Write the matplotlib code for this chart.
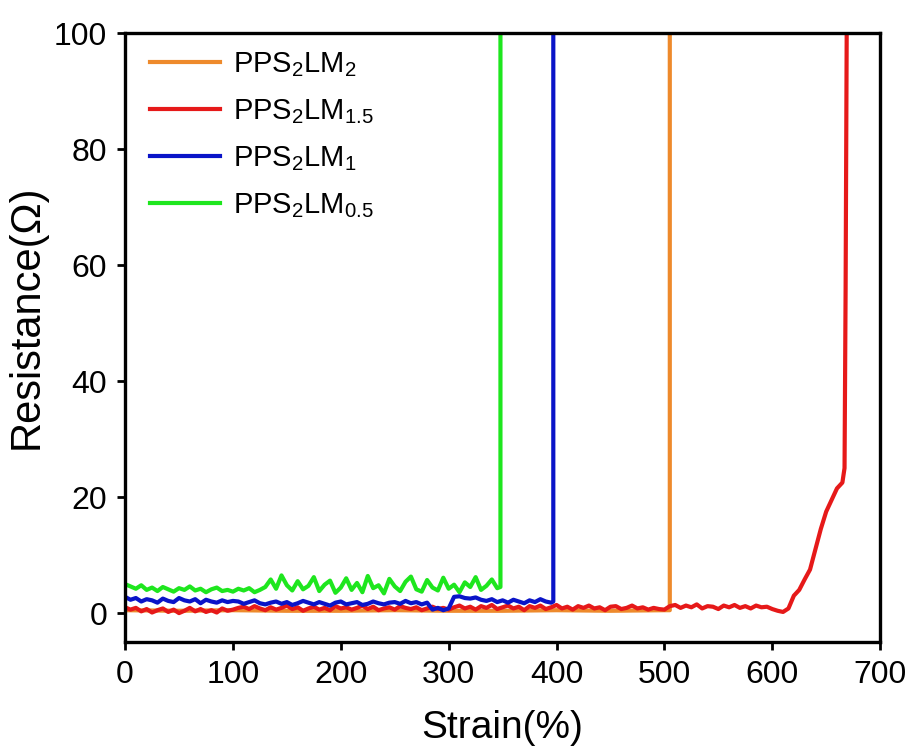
import numpy as np
import matplotlib
matplotlib.use('Agg')
import matplotlib.pyplot as plt

plt.rcParams['font.family'] = ['Liberation Sans', 'DejaVu Sans']
plt.rcParams['mathtext.default'] = 'regular'

# green: PPS2LM0.5, sampled every 5 % strain up to 345 %, breaks at ~348 %
green_strain = list(np.arange(0, 350, 5)) + [348, 348]
green_res = [5.0, 4.6, 4.2, 4.8, 4.0, 4.4, 3.8, 4.5, 4.1, 3.7, 4.3, 4.0, 4.6, 3.9, 4.2, 3.6,
             4.1, 4.4, 3.8, 4.0, 3.7, 4.2, 3.9, 4.3, 3.6, 4.0,
             4.5, 5.8, 4.2, 6.5, 4.8, 3.9, 5.5, 4.1, 4.7, 6.2, 3.8, 4.9, 5.6, 3.5, 4.4, 6.0,
             4.0, 5.2, 3.6, 6.4, 4.3, 4.8, 3.4, 5.9, 4.6, 3.8, 5.4, 6.3, 4.1, 3.7, 5.7, 4.4,
             3.9, 6.1, 4.2, 4.9, 3.6, 5.3, 4.5, 6.2, 4.0, 4.7, 5.8, 4.3,
             4.5, 100]

# blue: PPS2LM1, every 5 % up to 395 %, breaks at ~397 %
blue_strain = list(np.arange(0, 400, 5)) + [397, 397]
blue_res = [2.8, 2.3, 2.6, 2.0, 2.4, 2.2, 1.8, 2.5, 2.1, 1.9, 2.6, 2.2, 2.0, 2.4, 1.7, 2.3,
            2.0, 1.8, 2.2, 1.9, 2.1,
            2.0, 1.6, 1.9, 2.2, 1.7, 1.5, 1.8, 2.0, 1.6, 1.9, 1.4, 1.7, 2.1, 1.8, 1.5, 1.9,
            1.6, 1.3, 1.8, 2.0, 1.5, 1.7, 1.9, 1.4, 1.6, 2.0, 1.7, 1.5, 1.8, 1.9, 1.6, 2.1,
            1.7, 1.9, 1.5, 1.8,
            0.6, 0.9, 0.5, 0.8,
            2.8, 2.9, 2.6, 2.5, 2.7, 2.3, 2.1, 2.4, 1.9, 2.2, 1.8, 2.3, 2.0, 1.7, 2.2, 1.9,
            2.4, 2.0, 1.8,
            2.0, 100]

# red: PPS2LM1.5, every 5 % up to 665 %, then sharp rise
red_strain = list(np.arange(0, 670, 5)) + [667, 668, 669]
red_res = [1.0, 0.6, 0.9, 0.3, 0.7, 0.1, 0.5, 0.8, 0.2, 0.6, 0.0, 0.4, 0.9, 0.3, 0.7, 0.2,
           0.5, 0.1, 0.8, 0.4, 0.6,
           0.9, 1.1, 0.7, 1.2, 0.8, 0.5, 1.0, 0.6, 0.9, 1.3, 0.7, 1.0, 0.4, 0.8, 1.1, 0.6,
           0.9, 0.5, 1.2, 0.8, 1.0, 0.6, 0.9, 1.3, 0.7, 1.1, 0.5, 0.8, 1.0, 0.6, 1.2, 0.9,
           0.7, 1.0, 0.5, 0.8, 1.1, 0.7, 0.9, 0.6,
           1.0, 1.3, 0.8, 1.1, 0.6, 1.2, 0.9, 1.4, 0.7, 1.0, 1.3, 0.8, 1.1, 0.5, 1.2, 0.9,
           1.3, 0.7, 1.0, 1.4, 0.8, 1.1, 0.6, 1.2, 0.9, 1.3, 0.8, 1.0, 0.5, 1.1, 1.2, 0.7,
           0.9, 1.3, 0.8, 1.0, 0.6, 0.9, 0.7, 0.6,
           1.2, 1.4, 0.9, 1.3, 1.0, 1.5, 0.8, 1.2, 1.1, 0.7, 1.3, 1.0, 1.4, 0.9, 1.2, 0.8,
           1.3, 1.0, 1.1, 0.7, 0.4, 0.2,
           0.8, 3.0, 4.0, 5.8, 7.5, 11.0, 14.5, 17.5, 19.5, 21.5, 22.5,
           25.0, 56.0, 100]

# orange: PPS2LM2, flat then breaks at ~505 %
orange_strain = list(np.arange(0, 550, 50)) + [505, 505]
orange_res = [0.5, 0.4, 0.5, 0.4, 0.4, 0.5, 0.4, 0.4, 0.5, 0.4, 0.5, 0.5, 100]

labels = [r'PPS$_2$LM$_2$', r'PPS$_2$LM$_{1.5}$', r'PPS$_2$LM$_1$', r'PPS$_2$LM$_{0.5}$']
colors = ['#EE8A2C', '#E61919', '#0A14C8', '#1EE61E']

fig = plt.figure(figsize=(9.13, 7.51), dpi=100)
ax = fig.add_axes([0.137, 0.145, 0.827, 0.811])

lw = 3
ax.plot(orange_strain, orange_res, color=colors[0], lw=lw, label=labels[0])
ax.plot(red_strain, red_res, color=colors[1], lw=lw, label=labels[1])
ax.plot(green_strain, green_res, color=colors[3], lw=lw, label=labels[3])
ax.plot(blue_strain, blue_res, color=colors[2], lw=lw, label=labels[2])

ax.set_xlim(0, 700)
ax.set_ylim(-5, 100)
ax.set_xticks(range(0, 701, 100))
ax.set_yticks(range(0, 101, 20))
ax.tick_params(direction='out', length=6, width=2, labelsize=23, pad=7)
for s in ax.spines.values():
    s.set_linewidth(2.4)

ax.set_xlabel('Strain(%)', fontsize=28, labelpad=14)
ax.set_ylabel('Resistance(Ω)', fontsize=30)
ax.yaxis.set_label_coords(-0.104, 0.535)

h, l = ax.get_legend_handles_labels()
order = [0, 1, 3, 2]
ax.legend([h[i] for i in order], [l[i] for i in order], loc='upper left', frameon=False,
          fontsize=21, handlelength=2.4, handletextpad=0.45, labelspacing=0.62,
          borderaxespad=0.2, bbox_to_anchor=(0.01, 1.0))

fig.savefig('out.png', dpi=100)
